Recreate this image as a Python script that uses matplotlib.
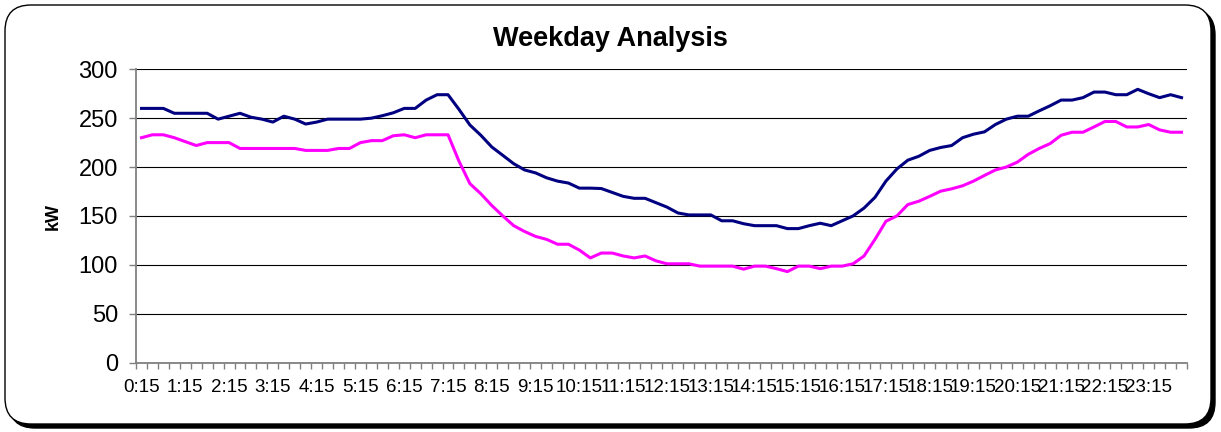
import matplotlib.pyplot as plt
from matplotlib.patches import FancyBboxPatch

plt.rcParams['font.family'] = ['Liberation Sans', 'DejaVu Sans']

# 15 minute intervals, 0:15 .. 24:00
times = [f"{m // 60}:{m % 60:02d}" for m in range(15, 1441, 15)]

weekday_total = [260, 260, 260, 255, 255, 255, 255, 249, 252, 255, 251, 249,
                 246, 252, 249, 244, 246, 249, 249, 249, 249, 250, 252.5, 255.5,
                 260, 260, 268.5, 274, 274, 259, 243, 232.5, 220.5, 212, 203.4, 197,
                 194, 189, 185.6, 183.6, 178.4, 178.4, 178, 174, 170, 168, 168, 163.5,
                 159, 153, 151, 151, 151, 145, 145, 142, 140, 140, 140, 137,
                 137, 140, 142.5, 140, 145, 150, 158, 169, 185.6, 198, 207, 211,
                 217, 220, 222, 230, 233.6, 236, 243.5, 249, 252, 252, 257.5, 262.7,
                 268.5, 268.5, 271, 276.7, 276.7, 274, 274, 279.5, 275, 271, 274, 271]

weekday_other = [230, 233, 233, 230, 226, 222, 225, 225, 225, 219, 219, 219,
                 219, 219, 219, 217, 217, 217, 219, 219, 225, 227, 227, 232,
                 233, 230, 233, 233, 233, 206, 183, 172.6, 160.6, 150, 140, 134,
                 129, 126, 121, 121, 115, 107, 112, 112, 109, 107, 109, 104,
                 101, 101, 101, 98.6, 98.6, 98.6, 98.6, 95.5, 98.6, 98.6, 96, 93,
                 98.6, 98.6, 96, 98.6, 98.6, 101, 109, 126, 144.5, 150, 161.6, 165,
                 170, 175.3, 177.7, 180.8, 185.6, 191.4, 197, 200, 205, 213, 219, 224,
                 232.5, 235.6, 235.6, 241, 246.6, 246.6, 241, 241, 243.5, 238, 235.6, 235.6]

fig = plt.figure(figsize=(12.21, 4.32), dpi=100)

# rounded frame with shadow, drawn in pixel coordinates
bg = fig.add_axes([0, 0, 1, 1])
bg.set_xlim(0, 1221)
bg.set_ylim(432, 0)
bg.axis('off')
shadow = FancyBboxPatch((9, 9), 1206, 419, boxstyle='round,pad=0,rounding_size=26',
                        facecolor='black', edgecolor='black', lw=1)
frame = FancyBboxPatch((5, 5), 1206, 419, boxstyle='round,pad=0,rounding_size=26',
                       facecolor='white', edgecolor='black', lw=1)
bg.add_patch(shadow)
bg.add_patch(frame)

ax = fig.add_axes([136 / 1221, 1 - 362.5 / 432, 1051 / 1221, 293.2 / 432])
ax.set_facecolor('none')
x = list(range(len(times)))
ax.plot(x, weekday_total, color='#000080', lw=2.2)
ax.plot(x, weekday_other, color='#FF00FF', lw=2.2)

ax.set_xlim(-0.5, len(times) - 0.5)
ax.set_ylim(0, 300)
ax.set_yticks(range(0, 301, 50))
ax.yaxis.grid(True, color='black', lw=0.8)
ax.set_axisbelow(True)

for s in ['top', 'right']:
    ax.spines[s].set_visible(False)
for s in ['left', 'bottom']:
    ax.spines[s].set_color('#808080')
    ax.spines[s].set_linewidth(1.3)

ax.set_xticks(x[::4])
ax.set_xticklabels(times[::4])
ax.set_xticks([i - 0.5 for i in range(len(times) + 1)], minor=True)
ax.tick_params(axis='x', which='major', length=0, pad=12, labelsize=13.5)
ax.tick_params(axis='x', which='minor', length=4, width=1, color='#808080')
ax.tick_params(axis='y', length=5, width=1, color='#808080', labelsize=17, pad=8)

fig.text(0.5, 1 - 39 / 432, 'Weekday Analysis', ha='center', va='center',
         fontsize=19.5, fontweight='bold')
fig.text(53 / 1221, 1 - 216 / 432, 'kW', rotation=90, ha='center', va='center',
         fontsize=13, fontweight='bold')

plt.savefig('out.png', dpi=100)
plt.close()
